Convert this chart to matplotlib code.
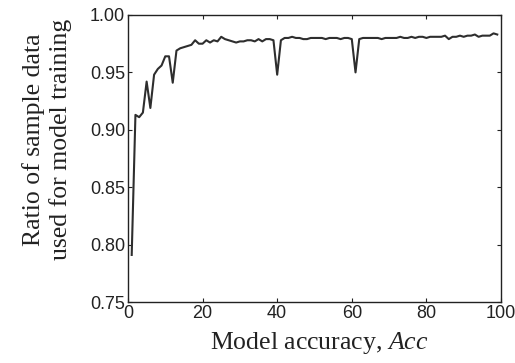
import matplotlib
matplotlib.use('Agg')
import matplotlib.pyplot as plt
import numpy as np

plt.rcParams['mathtext.fontset'] = 'custom'
plt.rcParams['mathtext.rm'] = 'Liberation Serif'
plt.rcParams['mathtext.it'] = 'Liberation Serif:italic'

# accuracy on the x axis, 1..99
acc = np.arange(1, 100)

# ratio of sample data
ratio_head = [0.791, 0.913, 0.911, 0.915, 0.942, 0.919, 0.948, 0.953, 0.956, 0.964,
              0.964, 0.941, 0.969, 0.971, 0.972, 0.973, 0.974, 0.978, 0.975, 0.975,
              0.978, 0.976, 0.978, 0.977, 0.981, 0.979, 0.978, 0.977, 0.976, 0.977,
              0.977, 0.978, 0.978, 0.977, 0.979, 0.977, 0.979, 0.979, 0.978, 0.948]
ratio_mid = [0.978, 0.980, 0.980, 0.981, 0.980, 0.980, 0.979, 0.979, 0.980, 0.980,
             0.980, 0.980, 0.979, 0.980, 0.980, 0.980, 0.979, 0.980, 0.980, 0.979,
             0.950]
ratio_tail = [0.979, 0.980, 0.980, 0.980, 0.980, 0.980, 0.979, 0.980, 0.980, 0.980,
              0.980, 0.981, 0.980, 0.980, 0.981, 0.980, 0.981, 0.981, 0.980, 0.981,
              0.981, 0.981, 0.981, 0.982, 0.979, 0.981, 0.981, 0.982, 0.981, 0.982,
              0.982, 0.983, 0.981, 0.982, 0.982, 0.982, 0.984, 0.983]
ratio = ratio_head + ratio_mid + ratio_tail

xticks = [0, 20, 40, 60, 80, 100]
yticks = [0.75, 0.80, 0.85, 0.90, 0.95, 1.00]

fig = plt.figure(figsize=(5.15, 3.63), dpi=100)
ax = fig.add_axes([0.2485, 0.168, 0.7243, 0.7907])

ax.plot(acc, ratio, color='#2e2e2e', lw=1.5)

ax.set_xlim(0, 100)
ax.set_ylim(0.75, 1.00)
ax.set_xticks(xticks)
ax.set_yticks(yticks)
ax.set_yticklabels(['%.2f' % v for v in yticks])
ax.tick_params(direction='in', length=3, width=0.8, top=True, right=True,
               labelsize=13, pad=2, colors='#222222')
for lab in ax.get_xticklabels() + ax.get_yticklabels():
    lab.set_fontfamily('Liberation Sans')
for s in ax.spines.values():
    s.set_linewidth(1.0)
    s.set_color('#222222')

fig.text(0.62, 0.055, 'Model accuracy, $\\mathit{Acc}$', ha='center', va='center',
         fontsize=18.5, family='Liberation Serif', color='#222222')
fig.text(0.091, 0.615, 'Ratio of sample data\nused for model training', rotation=90,
         ha='center', va='center', multialignment='center', linespacing=1.2,
         fontsize=18.5, family='Liberation Serif', color='#222222')

fig.savefig('out.png', dpi=100)
